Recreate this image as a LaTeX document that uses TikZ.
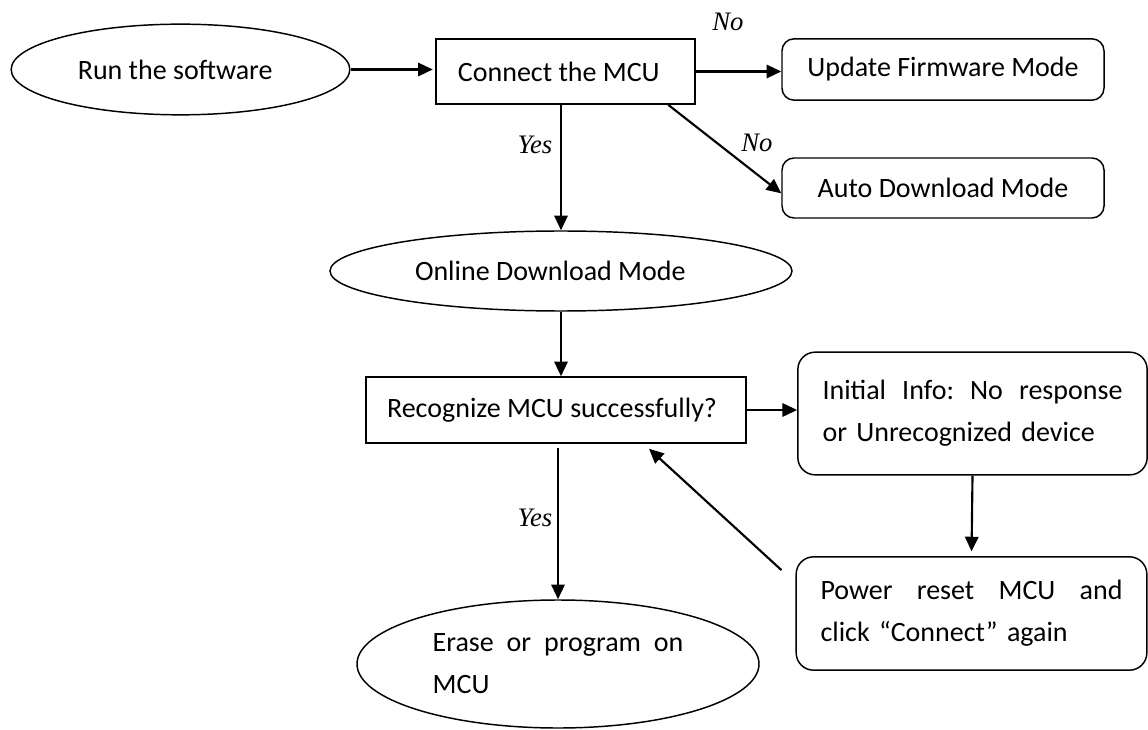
\documentclass[tikz,border=0pt]{standalone}
\usepackage{fontspec}
\setmainfont{Carlito}
\newfontfamily\labelfont{Liberation Serif}
\usetikzlibrary{calc,arrows.meta,shapes.geometric}
\tikzset{
	boxline/.style={draw, line width=1.1pt, inner sep=0pt, font=\fontsize{21}{31.5}\selectfont},
	oval/.style={boxline, ellipse},
	plainbox/.style={boxline, rectangle},
	roundbox/.style={boxline, rectangle, rounded corners=9pt},
	arr/.style={line width=1.6pt, -{Triangle[length=11pt,width=10pt]}},
	answer/.style={font=\fontsize{20}{22}\selectfont\labelfont\itshape}
}

\begin{document}
\begin{tikzpicture}[x=0.75pt, y=-0.75pt]
			%%%%% START %%%%%
			\useasboundingbox (0, 0) rectangle (1148, 730);
			
			\node[oval, minimum width=254pt, minimum height=68pt] (run) at (180.5, 69.5) {Run the software\hspace*{8pt}};
			\node[plainbox, minimum width=194pt, minimum height=49pt] (connect) at (565.5, 71.5) {Connect the MCU\hspace*{10pt}};
			\node[roundbox, minimum width=241.5pt, minimum height=46pt] (update) at (943, 69.5) {Update Firmware Mode};
			\node[roundbox, minimum width=241.5pt, minimum height=45pt] (auto) at (943, 188) {Auto Download Mode};
			
			\node[oval, minimum width=346.5pt, minimum height=60pt] (online) at (561, 271) {Online Download Mode\hspace*{16pt}};
			\node[plainbox, minimum width=285pt, minimum height=49.5pt] (recognize) at (556, 410) {Recognize MCU successfully?\hspace*{6pt}};
			
			\node[roundbox, rounded corners=13pt, minimum width=262pt, minimum height=92pt, text width=225pt, align=left] (initial) at (972.5, 413.5)
				{Initial\hfill Info:\hfill No\hfill response\\or Unrecognized device};
			\node[roundbox, rounded corners=13pt, minimum width=263pt, minimum height=85pt, text width=226.5pt, align=left] (power) at (971.5, 613.5)
				{Power\hfill reset\hfill MCU\hfill and\\click “Connect” again};
			
			\node[oval, minimum width=301.5pt, minimum height=96pt, text width=188pt, align=left] (erase) at (558, 664)
				{Erase\hfill or\hfill program\hfill on\\MCU};
			
			% answers
			\node[answer] (no1) at (728, 22) {No};
			\node[answer] (no2) at (757, 143) {No};
			\node[answer] (yes1) at (535, 145) {Yes};
			\node[answer] (yes2) at (535, 518) {Yes};
			
			% arrows
			\draw[arr, shorten >=2pt] (run) -- (run -| connect.west);
			\draw[arr] (connect.east) -- (connect.east -| update.west);
			\draw[arr] (connect.-18) -- ([yshift=-4pt]auto.west);
			\draw[arr] (online.north |- connect.south) -- (online.north);
			\draw[arr] (online.south) -- (online.south |- recognize.north);
			\draw[arr] (recognize.east) -- (recognize.east -| initial.west);
			\draw[arr, shorten <=3pt] (erase.north |- recognize.south) -- (erase.north);
			\draw[arr, shorten >=3.5pt] (initial.south) -- (power.north);
			\draw[arr] ($(power.north west)+(-14, 14)$) -- ($(recognize.south)+(93, 5)$);
			
			%%%%% END %%%%%
		\end{tikzpicture}
\end{document}
